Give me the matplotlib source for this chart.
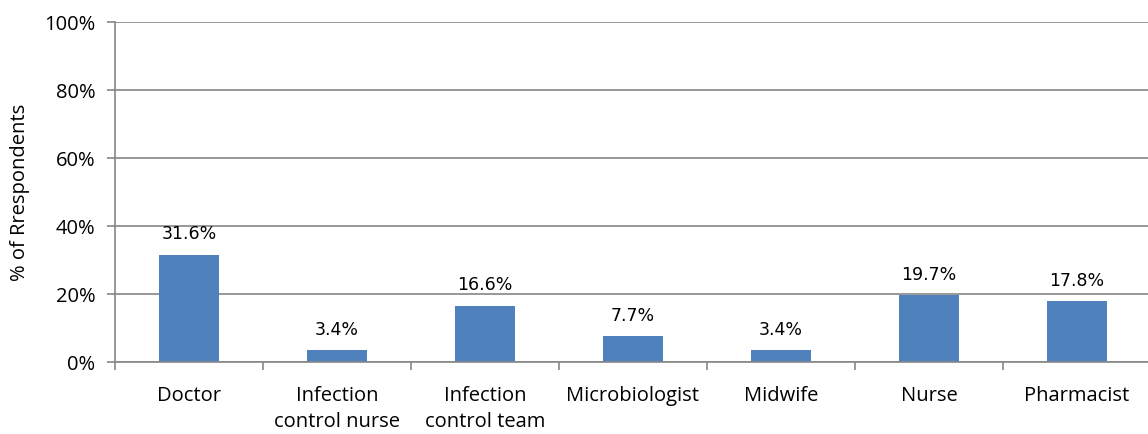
import numpy as np
import matplotlib.pyplot as plt
from matplotlib.ticker import FixedLocator

roles = ['Doctor', 'Infection\ncontrol nurse', 'Infection\ncontrol team',
         'Microbiologist', 'Midwife', 'Nurse', 'Pharmacist']
pct = [31.6, 3.4, 16.6, 7.7, 3.4, 19.7, 17.8]
yticks = [0, 20, 40, 60, 80, 100]

grey = '#868686'
plt.rcParams['font.family'] = ['Open Sans', 'DejaVu Sans']

fig = plt.figure(figsize=(11.48, 4.34), dpi=100)
ax = fig.add_axes([115 / 1148, 1 - 362 / 434, 1 - 115 / 1148, (362 - 22) / 434])

x = np.arange(len(roles))
bars = ax.bar(x, pct, width=0.4, color='#4F81BD', zorder=3)

for xi, v in zip(x, pct):
    ax.annotate(f'{v:.1f}%', (xi, v), xytext=(0, 8), textcoords='offset points',
                ha='center', va='bottom', fontsize=12.5, family='DejaVu Sans',
                color='black')

ax.set_ylim(0, 100)
ax.set_xlim(-0.5, 6.48)
ax.set_yticks(yticks)
ax.set_yticklabels([f'{t}%' for t in yticks], fontsize=14.5)
ax.yaxis.grid(True, color=grey, linewidth=1.2, zorder=0)

# category labels centred, tick marks at category borders
ax.set_xticks(x)
ax.set_xticklabels(roles, fontsize=14.5, linespacing=1.45)
ax.tick_params(axis='x', which='major', length=0, pad=17)
ax.xaxis.set_minor_locator(FixedLocator(np.arange(-0.5, len(roles), 1)))
ax.tick_params(axis='x', which='minor', length=6, color=grey, width=1.2, direction='out')
ax.tick_params(axis='y', length=6, color=grey, width=1.2, pad=8)

for s in ['top', 'right']:
    ax.spines[s].set_visible(False)
for s in ['left', 'bottom']:
    ax.spines[s].set_color(grey)
    ax.spines[s].set_linewidth(1.2)
    ax.spines[s].set_zorder(4)

ax.set_ylabel('% of Rrespondents', fontsize=14.5, labelpad=10)

fig.savefig('out.png', dpi=100)
